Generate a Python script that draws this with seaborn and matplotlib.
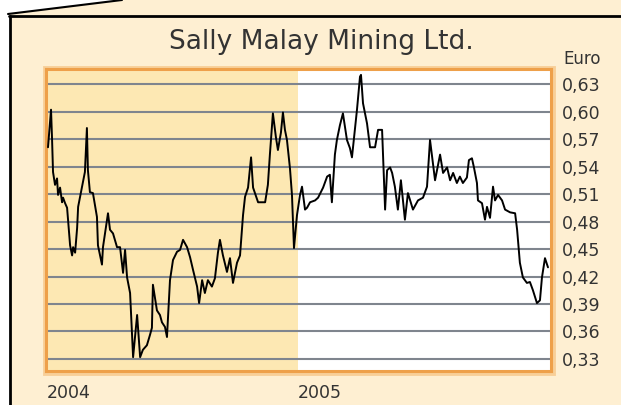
import matplotlib
matplotlib.use("Agg")
import matplotlib.pyplot as plt
import seaborn as sns
import pandas as pd
from matplotlib.patches import Polygon, Rectangle
from matplotlib.lines import Line2D

# share price (x = years after start of 2004)
year_offset = [
    0.004, 0.016, 0.020, 0.024, 0.032, 0.040, 0.044, 0.052, 0.060, 0.064,
    0.072, 0.080, 0.092, 0.100, 0.104, 0.112, 0.120, 0.124, 0.139, 0.151,
    0.159, 0.163, 0.171, 0.183, 0.199, 0.203, 0.219, 0.223, 0.243, 0.251,
    0.263, 0.279, 0.291, 0.303, 0.311, 0.319, 0.331, 0.343, 0.359, 0.371,
    0.382, 0.398, 0.410, 0.418, 0.422, 0.438, 0.450, 0.458, 0.470, 0.478,
    0.490, 0.502, 0.518, 0.530, 0.542, 0.558, 0.570, 0.582, 0.598, 0.606,
    0.618, 0.629, 0.641, 0.657, 0.669, 0.681, 0.689, 0.701, 0.717, 0.729,
    0.741, 0.757, 0.769, 0.781, 0.789, 0.801, 0.813, 0.821, 0.841, 0.869,
    0.880, 0.888, 0.900, 0.912, 0.920, 0.932, 0.940, 0.948, 0.956, 0.968,
    0.976, 0.984, 0.996, 1.008, 1.016, 1.028, 1.036, 1.048, 1.068, 1.080,
    1.100, 1.116, 1.127, 1.135, 1.147, 1.155, 1.167, 1.179, 1.195, 1.207,
    1.215, 1.235, 1.247, 1.251, 1.259, 1.275, 1.287, 1.307, 1.319, 1.335,
    1.347, 1.355, 1.367, 1.375, 1.386, 1.398, 1.410, 1.426, 1.438, 1.458,
    1.478, 1.498, 1.514, 1.526, 1.546, 1.566, 1.578, 1.594, 1.606, 1.618,
    1.633, 1.645, 1.657, 1.673, 1.681, 1.693, 1.701, 1.713, 1.717, 1.733,
    1.745, 1.753, 1.765, 1.777, 1.785, 1.797, 1.813, 1.825, 1.845, 1.865,
    1.873, 1.884, 1.896, 1.912, 1.924, 1.936, 1.952, 1.964, 1.972, 1.984,
    1.996,
]
price = [
    0.561, 0.602, 0.571, 0.534, 0.520, 0.527, 0.509, 0.517, 0.501, 0.506,
    0.500, 0.495, 0.454, 0.443, 0.452, 0.446, 0.473, 0.496, 0.517, 0.534,
    0.582, 0.536, 0.512, 0.511, 0.485, 0.454, 0.433, 0.452, 0.489, 0.471,
    0.467, 0.452, 0.452, 0.424, 0.449, 0.419, 0.402, 0.332, 0.378, 0.332,
    0.340, 0.345, 0.356, 0.364, 0.411, 0.383, 0.378, 0.370, 0.365, 0.354,
    0.416, 0.438, 0.447, 0.449, 0.460, 0.452, 0.441, 0.427, 0.409, 0.391,
    0.416, 0.402, 0.416, 0.409, 0.418, 0.446, 0.460, 0.443, 0.425, 0.440,
    0.413, 0.435, 0.443, 0.487, 0.507, 0.517, 0.550, 0.517, 0.501, 0.501,
    0.520, 0.553, 0.598, 0.572, 0.558, 0.577, 0.599, 0.580, 0.569, 0.538,
    0.509, 0.451, 0.487, 0.509, 0.518, 0.493, 0.495, 0.501, 0.503, 0.506,
    0.517, 0.529, 0.531, 0.501, 0.553, 0.569, 0.585, 0.598, 0.569, 0.560,
    0.550, 0.602, 0.638, 0.640, 0.609, 0.587, 0.561, 0.561, 0.580, 0.580,
    0.493, 0.536, 0.539, 0.533, 0.518, 0.493, 0.525, 0.482, 0.511, 0.493,
    0.503, 0.506, 0.518, 0.569, 0.525, 0.553, 0.533, 0.539, 0.525, 0.533,
    0.522, 0.529, 0.522, 0.528, 0.547, 0.549, 0.539, 0.522, 0.503, 0.500,
    0.482, 0.496, 0.484, 0.518, 0.503, 0.509, 0.503, 0.493, 0.490, 0.489,
    0.471, 0.435, 0.419, 0.413, 0.414, 0.405, 0.391, 0.394, 0.419, 0.440,
    0.430,
]
start_year = 2004
year_ticks = [2004, 2005]
year_labels = ["2004", "2005"]
price_ticks = [0.33, 0.36, 0.39, 0.42, 0.45, 0.48, 0.51, 0.54, 0.57, 0.60, 0.63]
price_labels = ["0,33", "0,36", "0,39", "0,42", "0,45", "0,48", "0,51",
                "0,54", "0,57", "0,60", "0,63"]

df = pd.DataFrame({"year": [start_year + t for t in year_offset], "price": price})

W, H = 621, 405
PALE = "#feefd2"
SHADE = "#fde8b3"
ORANGE = "#eea04a"
TEXT = "#333333"

sns.set_style("white")
plt.rcParams["font.family"] = ["DejaVu Sans"]

fig = plt.figure(figsize=(W / 100, H / 100), dpi=100)
fig.patch.set_facecolor("white")


def fx(px):
    return px / W


def fy(py):
    return 1 - py / H


# callout background and its black outline
bg = Polygon([(fx(8), fy(14)), (fx(122), fy(0)), (1, 1), (1, 0), (fx(10), 0), (fx(10), fy(16))],
             closed=True, transform=fig.transFigure, facecolor=PALE, edgecolor="none", zorder=-2)
fig.patches.append(bg)
fig.lines.append(Line2D([fx(8), fx(122)], [fy(14), fy(0)], transform=fig.transFigure,
                        color="black", lw=1.5))
fig.lines.append(Line2D([fx(9), 1], [fy(16), fy(16)], transform=fig.transFigure,
                        color="black", lw=2))
fig.lines.append(Line2D([fx(10), fx(10)], [fy(16), 0], transform=fig.transFigure,
                        color="black", lw=2))

# soft glow round the plot frame
fig.patches.append(Rectangle((fx(44.5), fy(372.5)), fx(552.5) - fx(44.5), fy(67.5) - fy(372.5),
                             transform=fig.transFigure, facecolor="none",
                             edgecolor="#f8cf98", lw=3.5, zorder=-1))

ax = fig.add_axes([fx(46), fy(371), fx(551) - fx(46), fy(69) - fy(371)])
ax.set_zorder(1)
ax.set_facecolor("white")
ax.set_xlim(start_year - 0.004, start_year + 2.008)
ax.set_ylim(0.3169, 0.6464)

ax.axvspan(start_year - 0.004, 2005, color=SHADE, lw=0, zorder=0)
for v in price_ticks:
    ax.axhline(v, color="#7f858e", lw=1.5, zorder=1)

sns.lineplot(data=df, x="year", y="price", ax=ax, color="black", lw=1.4, zorder=3)

for s in ax.spines.values():
    s.set_color(ORANGE)
    s.set_linewidth(2.2)

ax.yaxis.tick_right()
ax.set_yticks(price_ticks)
ax.set_yticklabels(price_labels)
ax.set_xticks(year_ticks)
ax.set_xticklabels(year_labels, ha="left")
ax.tick_params(axis="y", length=0, pad=8, labelsize=12.5, labelcolor=TEXT)
ax.tick_params(axis="x", length=0, pad=9, labelsize=12.5, labelcolor=TEXT)
ax.set_xlabel("")
ax.set_ylabel("")

fig.text(fx(563), fy(59), "Euro", ha="left", va="center", fontsize=12, color=TEXT)
fig.text(fx(321), fy(42), "Sally Malay Mining Ltd.", ha="center", va="center",
         fontsize=19, color=TEXT)

fig.savefig("out.png", dpi=100)
